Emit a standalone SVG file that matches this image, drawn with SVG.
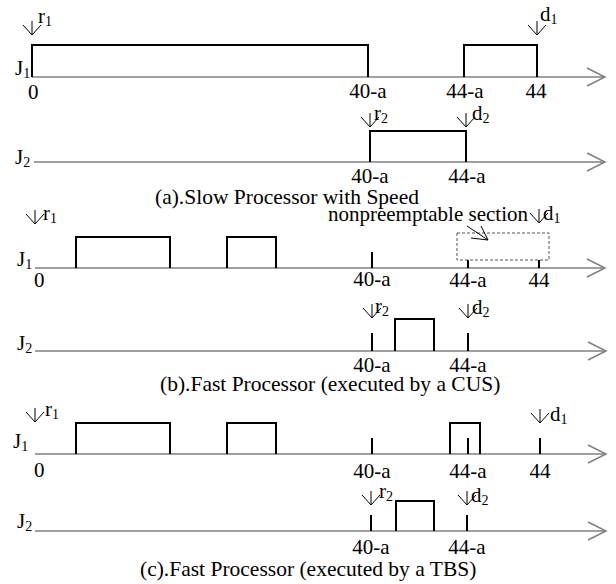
<svg xmlns="http://www.w3.org/2000/svg" xmlns:xlink="http://www.w3.org/1999/xlink" width="616" height="584" viewBox="0 0 616 584">
<style>
.ax{stroke:#808080;stroke-width:1.5;fill:none}
.bx{stroke:#000;stroke-width:2;fill:none}
.tk{stroke:#000;stroke-width:2;fill:none}
.ar{stroke:#000;stroke-width:1;fill:none}
.ds{stroke:#555;stroke-width:1;stroke-dasharray:3,2;fill:none}
text{font-family:"Liberation Serif","Times New Roman",serif;fill:#000;font-size:21px}
.s{font-size:14px}
.c{font-size:21.5px}
.m{text-anchor:middle}
.e{text-anchor:end}
</style>
<defs>
<path id="ch" d="M-18,-9 L0,0 L-18,9" class="ax"/>
<path id="dn" d="M0,-14 V0 M-9,-10 L0,0 L9,-10" class="ar"/>
</defs>

<g id="panel-a-J1">
<line class="ax" x1="32" y1="77" x2="605" y2="77"/>
<use xlink:href="#ch" x="605" y="77"/>
<path class="bx" d="M32,77 V45 H368 V77 M464,77 V45 H537 V77"/>
<use xlink:href="#dn" x="32" y="35"/>
<use xlink:href="#dn" x="537" y="35"/>
<text x="38" y="23">r<tspan class="s" dy="3">1</tspan></text>
<text x="540" y="21">d<tspan class="s" dy="3">1</tspan></text>
<text x="15" y="75">J<tspan class="s" dy="3">1</tspan></text>
<text x="28" y="99">0</text>
<text class="m" x="368" y="98">40-a</text>
<text class="m" x="465" y="98">44-a</text>
<text class="m" x="536" y="98">44</text>
</g>

<g id="panel-a-J2">
<line class="ax" x1="34" y1="162" x2="605" y2="162"/>
<use xlink:href="#ch" x="605" y="162"/>
<path class="bx" d="M370,162 V131 H466 V162"/>
<use xlink:href="#dn" x="370" y="127"/>
<use xlink:href="#dn" x="466" y="127"/>
<text x="374" y="120">r<tspan class="s" dy="3">2</tspan></text>
<text x="472" y="120">d<tspan class="s" dy="3">2</tspan></text>
<text x="15" y="164">J<tspan class="s" dy="3">2</tspan></text>
<text class="m" x="370" y="183">40-a</text>
<text class="m" x="467" y="183">44-a</text>
<text class="c" x="155" y="204">(a).Slow Processor with Speed</text>
</g>

<g id="panel-b-J1">
<line class="ax" x1="35" y1="268" x2="605" y2="268"/>
<use xlink:href="#ch" x="605" y="268"/>
<path class="bx" d="M76,268 V237 H170 V268 M227,268 V237 H276 V268"/>
<path class="tk" d="M372,252 V268 M468,260 V268 M539,260 V268"/>
<rect class="ds" x="457" y="233" width="92" height="27"/>
<path class="ar" d="M467,226 L488,240 M471,238 L488,240 L481,226"/>
<use xlink:href="#dn" x="35" y="224"/>
<use xlink:href="#dn" x="539" y="223"/>
<text x="43" y="220">r<tspan class="s" dy="3">1</tspan></text>
<text x="543" y="220">d<tspan class="s" dy="3">1</tspan></text>
<text class="e" x="528" y="221">nonpreemptable section</text>
<text x="17" y="266">J<tspan class="s" dy="3">1</tspan></text>
<text x="34" y="287">0</text>
<text class="m" x="372" y="286">40-a</text>
<text class="m" x="468" y="287">44-a</text>
<text class="m" x="539" y="287">44</text>
</g>

<g id="panel-b-J2">
<line class="ax" x1="35" y1="351" x2="606" y2="351"/>
<use xlink:href="#ch" x="606" y="351"/>
<path class="bx" d="M395,351 V319 H434 V351"/>
<path class="tk" d="M372,333 V351 M468,333 V351"/>
<use xlink:href="#dn" x="372" y="318"/>
<use xlink:href="#dn" x="468" y="318"/>
<text x="375" y="313">r<tspan class="s" dy="3">2</tspan></text>
<text x="472" y="314">d<tspan class="s" dy="3">2</tspan></text>
<text x="17" y="350">J<tspan class="s" dy="3">2</tspan></text>
<text class="m" x="372" y="372">40-a</text>
<text class="m" x="468" y="372">44-a</text>
<text class="c" x="160" y="391">(b).Fast Processor (executed by a CUS)</text>
</g>

<g id="panel-c-J1">
<line class="ax" x1="35" y1="454" x2="606" y2="454"/>
<use xlink:href="#ch" x="606" y="454"/>
<path class="bx" d="M76,454 V423 H170 V454 M227,454 V423 H276 V454 M450,454 V423 H480 V454"/>
<path class="tk" d="M372,438 V454 M468,438 V454 M540,438 V454"/>
<use xlink:href="#dn" x="35" y="422"/>
<use xlink:href="#dn" x="540" y="423"/>
<text x="45" y="416">r<tspan class="s" dy="3">1</tspan></text>
<text x="550" y="421">d<tspan class="s" dy="3">1</tspan></text>
<text x="13" y="448">J<tspan class="s" dy="3">1</tspan></text>
<text x="34" y="477">0</text>
<text class="m" x="372" y="478">40-a</text>
<text class="m" x="468" y="478">44-a</text>
<text class="m" x="540" y="478">44</text>
</g>

<g id="panel-c-J2">
<line class="ax" x1="35" y1="531" x2="606" y2="531"/>
<use xlink:href="#ch" x="606" y="531"/>
<path class="bx" d="M396,531 V501 H434 V531"/>
<path class="tk" d="M371,515 V531 M467,515 V531"/>
<use xlink:href="#dn" x="371" y="505"/>
<use xlink:href="#dn" x="467" y="505"/>
<text x="379" y="498">r<tspan class="s" dy="3">2</tspan></text>
<text x="471" y="502">d<tspan class="s" dy="3">2</tspan></text>
<text x="17" y="528">J<tspan class="s" dy="3">2</tspan></text>
<text class="m" x="371" y="554">40-a</text>
<text class="m" x="467" y="554">44-a</text>
<text class="c" x="140" y="576">(c).Fast Processor (executed by a TBS)</text>
</g>
</svg>
